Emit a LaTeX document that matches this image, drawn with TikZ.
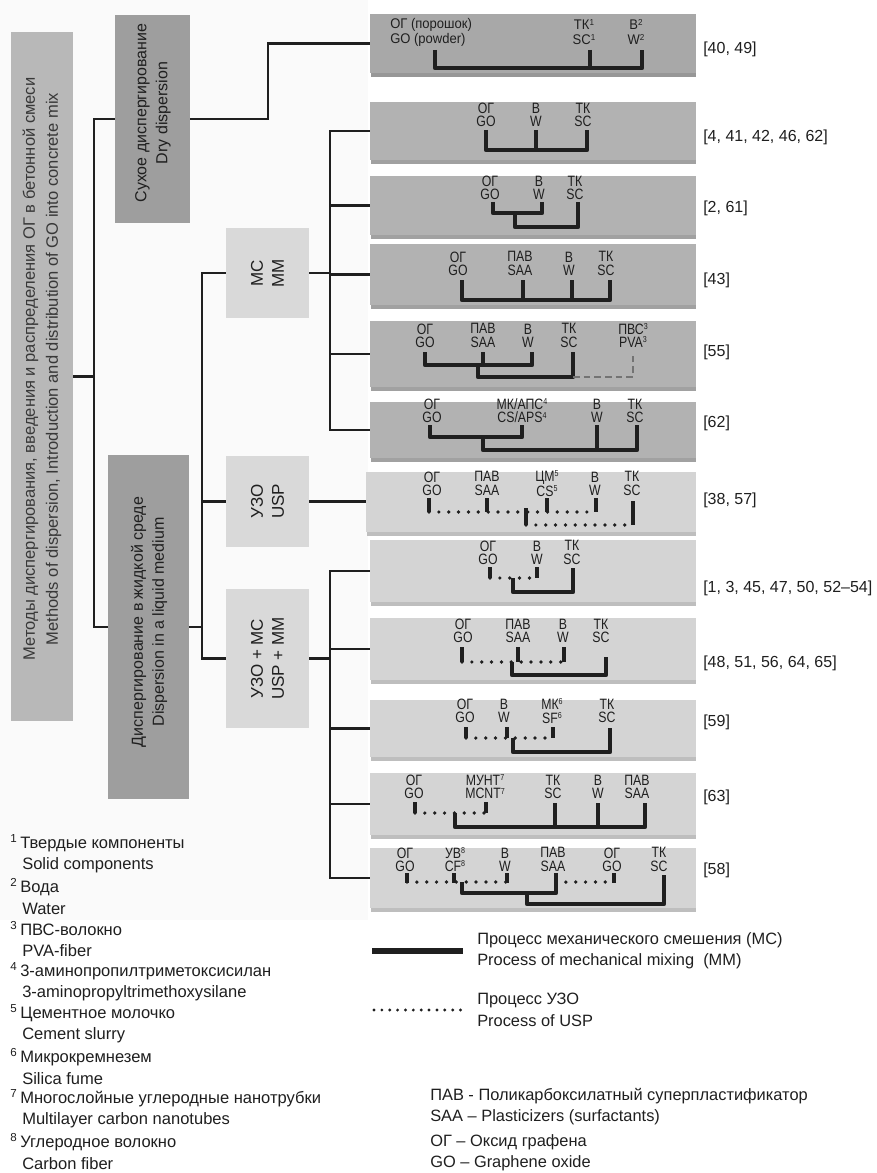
\documentclass[tikz,border=0pt]{standalone}
\usepackage{fontspec}
\setmainfont{Liberation Sans}
\newfontfamily\condfont[FakeStretch=0.82]{Liberation Sans}
\newfontfamily\semicond[FakeStretch=0.93]{Liberation Sans}
\newcommand\sps[1]{\raisebox{0.62ex}{\fontsize{6.5}{6.5}\selectfont #1}}
\usetikzlibrary{fit}
\definecolor{mainfill}{gray}{0.72}
\definecolor{darkfill}{gray}{0.62}
\definecolor{lightfill}{gray}{0.85}
\definecolor{rowA}{gray}{0.66}
\definecolor{rowB}{gray}{0.70}
\definecolor{rowC}{gray}{0.83}
\definecolor{inkc}{gray}{0.12}
\begin{document}
\begin{tikzpicture}[x=0.75pt,y=-0.75pt,
  box/.style={inner sep=0pt, draw=none},
  rot/.style={rotate=90, align=center, inner sep=0pt, text=inkc},
  tree/.style={line width=2pt, draw=inkc},
  mm/.style={line width=3.4pt, draw=inkc, line join=round},
  usp/.style={line width=2.8pt, draw=inkc, line cap=round, dash pattern=on 0pt off 7.4pt},
  fiber/.style={line width=1.1pt, draw=black!55, dash pattern=on 5pt off 3pt},
  lbl/.style={font=\condfont\fontsize{11.25}{9.9}\selectfont, align=center, inner sep=0pt, text=inkc},
  lblsm/.style={font=\semicond\fontsize{10.5}{11.25}\selectfont, align=center, inner sep=0pt, text=inkc},
  refl/.style={font=\fontsize{12}{14}\selectfont, anchor=west, inner sep=0pt, text=inkc},
  note/.style={font=\fontsize{12.3}{16}\selectfont, anchor=west, align=left, inner sep=0pt, text=inkc},
  fnote/.style={font=\fontsize{12.4}{16}\selectfont, anchor=west, align=left, inner sep=0pt, text=inkc}
]
\useasboundingbox (0,0) rectangle (877,1173);
\fill[white] (0,0) rectangle (877,1173);
\fill[black!2] (0,0) rectangle (368,920);

% ---------- left hierarchy boxes ----------
\node[box, fill=mainfill, fit={(11,32)(73,721)}] (main) {};
\node[rot, text=black!78, font=\fontsize{12.4}{17.25}\selectfont] (maintext) at (42,369)
  {Методы диспергирования, введения и распределения ОГ в бетонной смеси\\Methods of dispersion, Introduction and distribution of GO into concrete mix};

\node[box, fill=darkfill, fit={(115,15)(190,223)}] (dry) {};
\node[rot, font=\fontsize{12}{15.75}\selectfont] (drytext) at (153,113)
  {Сухое диспергирование\\Dry dispersion};

\node[box, fill=darkfill, fit={(108,455)(189,799)}] (liq) {};
\node[rot, font=\fontsize{12}{15.75}\selectfont] (liqtext) at (149,622)
  {Диспергирование в жидкой среде\\Dispersion in a liquid medium};

\node[box, fill=lightfill, fit={(226,228)(309,318)}] (mc) {};
\node[rot, font=\fontsize{12.75}{15.75}\selectfont] (mctext) at (mc.center) {МС\\MM};
\node[box, fill=lightfill, fit={(226,456)(309,547)}] (usp) {};
\node[rot, font=\fontsize{12.75}{15.75}\selectfont] (usptext) at (usp.center) {УЗО\\USP};
\node[box, fill=lightfill, fit={(226,589)(309,728)}] (both) {};
\node[rot, font=\fontsize{12.75}{15.75}\selectfont] (bothtext) at (both.center) {УЗО + МС\\USP + MM};

% ---------- row boxes ----------
\foreach \nm/\xa/\ya/\yb/\col in {r1/370/14/73/rowA, r2/370/102/160/rowB, r3/370/176/235/rowB,
   r4/370/244/305/rowB, r5/370/321/387/rowB, r6/370/402/458/rowB, r7/366/472/532/rowC,
   r8/370/540/602/rowC, r9/370/618/680/rowC, r10/370/700/757/rowC, r11/370/773/835/rowC,
   r12/370/848/908/rowC}{
  \fill[\col!90!black] ({\xa+1},\yb) rectangle (696,{\yb+4});
  \node[box, fill=\col, fit={(\xa,\ya)(696,\yb)}] (\nm) {};
}

% ---------- tree connectors ----------
\coordinate (j0) at (268,0);
\coordinate (j1) at (94,0);
\coordinate (j2) at (202,0);
\coordinate (j3) at (330,0);
\draw[tree] (main.east) -- (main.east -| j1);
\draw[tree] (dry.west) -| (j1 |- liq.west) -- (liq.west);
\draw[tree] (dry.east) -- (dry.east -| j0) |- (r1.west);
\draw[tree] (liq.east) -- (liq.east -| j2);
\draw[tree] (mc.west) -| (j2 |- both.west) -- (both.west);
\draw[tree] (usp.west) -- (usp.west -| j2);
\draw[tree] (mc.east) -- (mc.east -| j3);
\draw[tree] (r2.west) -| (j3 |- r6.west) -- (r6.west);
\draw[tree] (r3.west) -- (r3.west -| j3);
\draw[tree] (r4.west) -- (r4.west -| j3);
\draw[tree] (r5.west) -- (r5.west -| j3);
\draw[tree] (usp.east) -- (usp.east -| r7.west);
\draw[tree] (both.east) -- (both.east -| j3);
\draw[tree] (r8.west) -| (j3 |- r12.west) -- (r12.west);
\draw[tree] (r9.west) -- (r9.west -| j3);
\draw[tree] (r10.west) -- (r10.west -| j3);
\draw[tree] (r11.west) -- (r11.west -| j3);

% ---------- row 1 ----------
\node[lblsm, anchor=west, align=left] (a1) at (390,32) {ОГ (порошок)\\GO (powder)};
\node[lblsm] (b1) at (584,32) {ТК\sps{1}\\SC\sps{1}};
\node[lblsm] (c1) at (636,32) {В\sps{2}\\W\sps{2}};
\draw[mm] (435,50) |- (642,68) -- (642,50);
\draw[mm] (590,50) -- (590,68);
\node[refl] (ref1) at (703,49) {[40, 49]};

% ---------- row 2 ----------
\node[lbl] (a2) at (486,115) {ОГ\\GO};
\node[lbl] (b2) at (536,115) {В\\W};
\node[lbl] (c2) at (583,115) {ТК\\SC};
\draw[mm] (486,130) |- (587,150) -- (587,130);
\draw[mm] (536,130) -- (536,150);
\node[refl] (ref2) at (703,137) {[4, 41, 42, 46, 62]};

% ---------- row 3 ----------
\node[lbl] (a3) at (490,188) {ОГ\\GO};
\node[lbl] (b3) at (539,188) {В\\W};
\node[lbl] (c3) at (575,188) {ТК\\SC};
\draw[mm] (493,202) |- (542,213) -- (542,202);
\draw[mm] (515,213) |- (578,227) -- (578,202);
\node[refl] (ref3) at (703,208) {[2, 61]};

% ---------- row 4 ----------
\node[lbl] (a4) at (458,263.5) {ОГ\\GO};
\node[lbl] (b4) at (520,263.5) {ПАВ\\SAA};
\node[lbl] (c4) at (569,263.5) {В\\W};
\node[lbl] (d4) at (606,263.5) {ТК\\SC};
\draw[mm] (462,280) |- (610,300) -- (610,280);
\draw[mm] (523,280) -- (523,300);
\draw[mm] (572,280) -- (572,300);
\node[refl] (ref4) at (703,280) {[43]};

% ---------- row 5 ----------
\node[lbl] (a5) at (425,335.5) {ОГ\\GO};
\node[lbl] (b5) at (483,335.5) {ПАВ\\SAA};
\node[lbl] (c5) at (528,335.5) {В\\W};
\node[lbl] (d5) at (569,335.5) {ТК\\SC};
\node[lbl] (e5) at (633,335.5) {ПВС\sps{3}\\PVA\sps{3}};
\draw[mm] (425,352) |- (532,365) -- (532,352);
\draw[mm] (483,352) -- (483,365);
\draw[mm] (478,365) |- (573,377) -- (573,352);
\draw[fiber] (573,377) -| (633,352);
\node[refl] (ref5) at (703,352) {[55]};

% ---------- row 6 ----------
\node[lbl] (a6) at (432,411) {ОГ\\GO};
\node[lbl] (b6) at (522,411) {МК/АПС\sps{4}\\CS/APS\sps{4}};
\node[lbl] (c6) at (597,411) {В\\W};
\node[lbl] (d6) at (635,411) {ТК\\SC};
\draw[mm] (430,425) |- (522,437) -- (522,425);
\draw[mm] (483,437) |- (637,450) -- (637,425);
\draw[mm] (597,425) -- (597,450);
\node[refl] (ref6) at (703,423) {[62]};

% ---------- row 7 ----------
\node[lbl] (a7) at (432,483.5) {ОГ\\GO};
\node[lbl] (b7) at (487,483.5) {ПАВ\\SAA};
\node[lbl] (c7) at (547,483.5) {ЦМ\sps{5}\\CS\sps{5}};
\node[lbl] (d7) at (595,483.5) {В\\W};
\node[lbl] (e7) at (632,483.5) {ТК\\SC};
\foreach \xx in {429,487,547,596} \draw[mm] (\xx,498) -- (\xx,512);
\draw[usp] (429,512) -- (596,512);
\draw[mm] (526,508) -- (526,525);
\draw[mm] (633,501) -- (633,525);
\draw[usp] (526,525) -- (633,525);
\node[refl] (ref7) at (703,500) {[38, 57]};

% ---------- row 8 ----------
\node[lbl] (a8) at (488,552.5) {ОГ\\GO};
\node[lbl] (b8) at (537,552.5) {В\\W};
\node[lbl] (c8) at (572,552.5) {ТК\\SC};
\foreach \xx in {490,537} \draw[mm] (\xx,567) -- (\xx,578);
\draw[usp] (490,578) -- (537,578);
\draw[mm] (513,578) |- (573,592) -- (573,568);
\node[refl] (ref8) at (703,588) {[1, 3, 45, 47, 50, 52–54]};

% ---------- row 9 ----------
\node[lbl] (a9) at (463,631) {ОГ\\GO};
\node[lbl] (b9) at (518,631) {ПАВ\\SAA};
\node[lbl] (c9) at (563,631) {В\\W};
\node[lbl] (d9) at (601,631) {ТК\\SC};
\foreach \xx in {462,518,564} \draw[mm] (\xx,647) -- (\xx,662);
\draw[usp] (462,662) -- (564,662);
\draw[mm] (512,662) |- (606,675) -- (606,657);
\node[refl] (ref9) at (703,663) {[48, 51, 56, 64, 65]};

% ---------- row 10 ----------
\node[lbl] (a10) at (465,711) {ОГ\\GO};
\node[lbl] (b10) at (504,711) {В\\W};
\node[lbl] (c10) at (552,711) {МК\sps{6}\\SF\sps{6}};
\node[lbl] (d10) at (607,711) {ТК\\SC};
\foreach \xx in {466,507,553} \draw[mm] (\xx,727) -- (\xx,738);
\draw[usp] (466,738) -- (553,738);
\draw[mm] (513,738) |- (610,752) -- (610,728);
\node[refl] (ref10) at (703,722) {[59]};

% ---------- row 11 ----------
\node[lbl] (a11) at (414,787) {ОГ\\GO};
\node[lbl] (b11) at (485,787) {МУНТ\sps{7}\\MCNT\sps{7}};
\node[lbl] (c11) at (553,787) {ТК\\SC};
\node[lbl] (d11) at (598,787) {В\\W};
\node[lbl] (e11) at (637,787) {ПАВ\\SAA};
\foreach \xx in {415,486} \draw[mm] (\xx,802) -- (\xx,813);
\draw[usp] (415,813) -- (486,813);
\draw[mm] (455,813) |- (645,827) -- (645,803);
\draw[mm] (555,803) -- (555,827);
\draw[mm] (598,803) -- (598,827);
\node[refl] (ref11) at (703,797) {[63]};

% ---------- row 12 ----------
\node[lbl] (a12) at (405,859.5) {ОГ\\GO};
\node[lbl] (b12) at (455,859.5) {УВ\sps{8}\\CF\sps{8}};
\node[lbl] (c12) at (505,859.5) {В\\W};
\node[lbl] (d12) at (553,859.5) {ПАВ\\SAA};
\node[lbl] (e12) at (612,859.5) {ОГ\\GO};
\node[lbl] (f12) at (659,859.5) {ТК\\SC};
\foreach \xx in {407,454,507,614} \draw[mm] (\xx,873) -- (\xx,883);
\draw[usp] (407,882) -- (507,882);
\draw[usp] (556,882) -- (614,882);
\draw[mm] (462,882) |- (556,893) -- (556,873);
\draw[mm] (527,893) |- (664,904) -- (664,875);
\node[refl] (ref12) at (703,870) {[58]};

% ---------- legend ----------
\coordinate (lgA1) at (372,951);
\coordinate (lgA2) at (463,951);
\draw[line width=3.9pt, draw=inkc] (lgA1) -- (lgA2);
\node[note] (lgAtext) at (477,950.5) {Процесс механического смешения (МС)\\Process of mechanical mixing\ \ (MM)};
\coordinate (lgB1) at (374,1010);
\coordinate (lgB2) at (463,1010);
\draw[line width=2.4pt, draw=inkc, line cap=round, dash pattern=on 0pt off 5.9pt] (lgB1) -- (lgB2);
\node[note] (lgBtext) at (477,1010) {Процесс УЗО\\Process of USP};

\node[note] (abbr1) at (430,1106.5) {ПАВ - Поликарбоксилатный суперпластификатор\\SAA – Plasticizers (surfactants)};
\node[note] (abbr2) at (430,1153) {ОГ – Оксид графена\\GO – Graphene oxide};

% ---------- footnotes ----------
\foreach \k/\ru/\en [count=\i from 0] in {
  1/Твердые компоненты/Solid components,
  2/Вода/Water,
  3/ПВС-волокно/PVA-fiber,
  4/3-аминопропилтриметоксисилан/3-aminopropyltrimethoxysilane,
  5/Цементное молочко/Cement slurry,
  6/Микрокремнезем/Silica fume,
  7/Многослойные углеродные нанотрубки/Multilayer carbon nanotubes,
  8/Углеродное волокно/Carbon fiber}{
  \node[fnote] (fn\k) at (10,{854+\i*42.5})
    {\makebox[7.5pt][l]{\textsuperscript{\k}}\ru\\\hspace*{9pt}\en};
}
\end{tikzpicture}
\end{document}
